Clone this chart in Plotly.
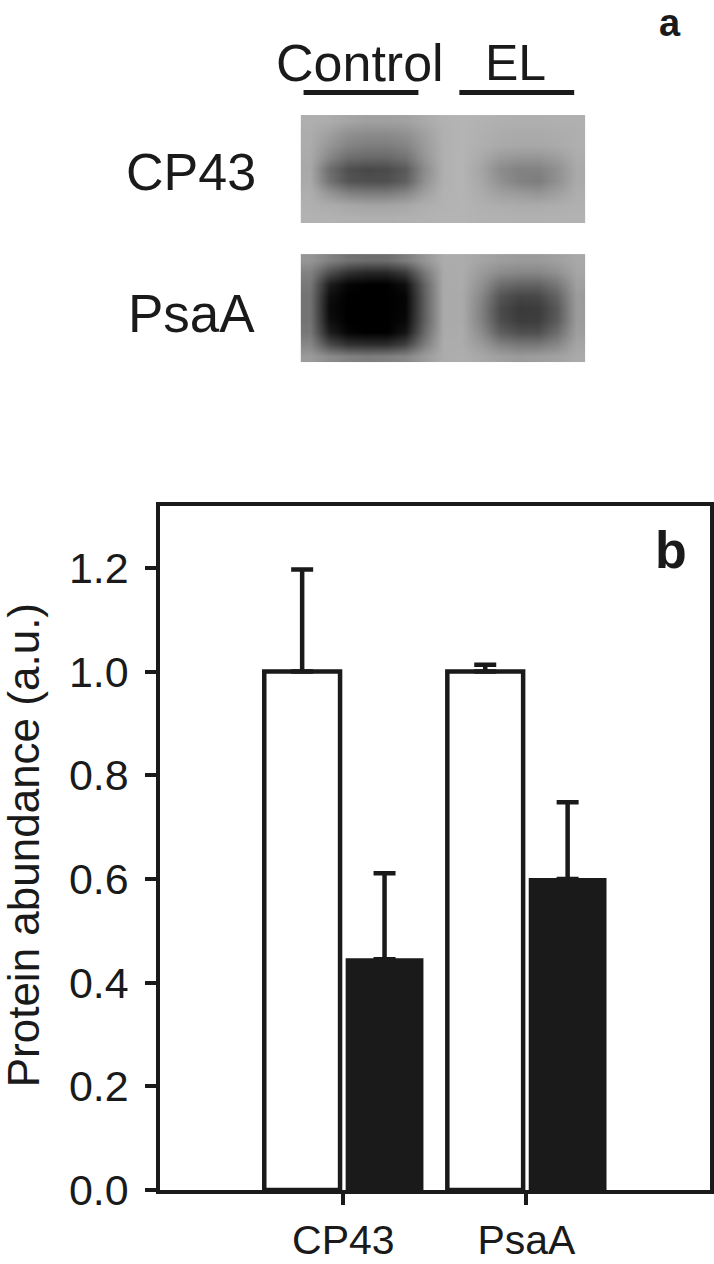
import plotly.graph_objects as go

W, H = 714, 1288
Y_SCALE = 1.0194
INK = "#1a1a1a"

categories = ["CP43", "PsaA"]
control_values = [1.0, 1.0]
control_errors = [0.197, 0.013]
el_values = [0.445, 0.60]
el_errors = [0.166, 0.148]
y_ticks = [0.0, 0.2, 0.4, 0.6, 0.8, 1.0, 1.2]
y_tick_labels = ["0.0", "0.2", "0.4", "0.6", "0.8", "1.0", "1.2"]

blot_cp43 = [
    [175, 172, 165, 160, 160, 162, 170, 178, 180, 178, 176, 175, 175, 176, 176],
    [172, 160, 145, 140, 140, 145, 160, 176, 180, 176, 172, 170, 170, 172, 175],
    [172, 150, 132, 125, 125, 132, 155, 176, 180, 175, 170, 168, 168, 170, 175],
    [170, 135, 110, 105, 105, 115, 150, 176, 180, 170, 155, 150, 150, 158, 172],
    [168, 110, 80, 72, 75, 90, 140, 176, 180, 165, 140, 130, 130, 145, 170],
    [170, 115, 85, 80, 80, 95, 145, 176, 180, 168, 145, 130, 125, 145, 170],
    [174, 150, 130, 125, 125, 135, 160, 178, 180, 172, 160, 155, 150, 160, 174],
    [176, 172, 168, 165, 165, 168, 175, 178, 180, 176, 174, 172, 172, 174, 176],
    [178, 178, 177, 176, 176, 177, 178, 180, 180, 178, 178, 177, 177, 178, 178],
]
blot_psaa = [
    [150, 130, 115, 110, 110, 125, 150, 172, 172, 165, 158, 155, 155, 160, 168],
    [130, 80, 50, 40, 40, 60, 120, 170, 172, 155, 140, 135, 135, 145, 165],
    [120, 30, 5, 0, 0, 15, 100, 170, 172, 145, 110, 100, 100, 120, 160],
    [115, 15, 0, 0, 0, 5, 95, 170, 170, 135, 85, 70, 72, 100, 155],
    [115, 10, 0, 0, 0, 5, 95, 170, 170, 130, 75, 58, 60, 90, 155],
    [115, 15, 0, 0, 0, 8, 95, 170, 170, 130, 78, 60, 62, 92, 155],
    [120, 30, 5, 0, 0, 20, 105, 170, 172, 140, 95, 80, 80, 110, 158],
    [135, 75, 50, 45, 45, 65, 125, 172, 172, 155, 130, 120, 120, 135, 165],
    [155, 140, 130, 125, 128, 135, 155, 172, 174, 168, 160, 155, 158, 162, 170],
]


def px(x):
    return x / W


def py(y):
    return 1 - y * Y_SCALE / H


fig = go.Figure()

err_style = dict(type="data", symmetric=False, color=INK, thickness=4.5, width=11)
fig.add_bar(
    x=categories, y=control_values, name="Control",
    marker=dict(color="white", line=dict(color=INK, width=4.5)),
    error_y=dict(array=control_errors, arrayminus=[0, 0], **err_style),
)
fig.add_bar(
    x=categories, y=el_values, name="EL",
    marker=dict(color=INK, line=dict(color=INK, width=2)),
    error_y=dict(array=el_errors, arrayminus=[0, 0], **err_style),
)

gray = [[0, "#000000"], [1, "#ffffff"]]
for z, xa, ya in [(blot_cp43, "x2", "y2"), (blot_psaa, "x3", "y3")]:
    fig.add_heatmap(z=z, xaxis=xa, yaxis=ya, colorscale=gray, zmin=0, zmax=255,
                    zsmooth="best", showscale=False, hoverinfo="skip")

hidden = dict(visible=False, fixedrange=True)
axis_line = dict(showline=True, linecolor=INK, linewidth=4, mirror=True,
                 ticks="outside", tickcolor=INK, tickwidth=4, showgrid=False,
                 zeroline=False)

fig.update_layout(
    width=W, height=H, margin=dict(l=0, r=0, t=0, b=0),
    autosize=False,
    paper_bgcolor="white", plot_bgcolor="white",
    showlegend=False, barmode="group", bargap=0.10, bargroupgap=0.08,
    font=dict(family="Liberation Sans", color=INK),
    xaxis=dict(domain=[px(160.5), px(710.5)], range=[-1, 2], type="category",
               categoryorder="array", categoryarray=categories, ticklen=11,
               ticklabelstandoff=0, tickfont=dict(size=41), **axis_line),
    yaxis=dict(domain=[py(1189.5), py(505.5)], range=[0, 1.32], tickvals=y_ticks,
               ticktext=y_tick_labels, ticklen=11, ticklabelstandoff=8,
               tickfont=dict(size=43), **axis_line),
    xaxis2=dict(domain=[px(301), px(586)], anchor="y2", **hidden),
    yaxis2=dict(domain=[py(223), py(115)], anchor="x2", autorange="reversed", **hidden),
    xaxis3=dict(domain=[px(301), px(586)], anchor="y3", **hidden),
    yaxis3=dict(domain=[py(362), py(254)], anchor="x3", autorange="reversed", **hidden),
    shapes=[
        dict(type="line", xref="paper", yref="paper", x0=px(304), x1=px(419),
             y0=py(92.5), y1=py(92.5), line=dict(color=INK, width=5)),
        dict(type="line", xref="paper", yref="paper", x0=px(460), x1=px(575),
             y0=py(92.5), y1=py(92.5), line=dict(color=INK, width=5)),
    ],
)


def label(text, x, y, size, bold=False, angle=0):
    fig.add_annotation(
        text=f"<b>{text}</b>" if bold else text,
        xref="paper", yref="paper", x=px(x), y=py(y), showarrow=False,
        xanchor="center", yanchor="middle", textangle=angle,
        font=dict(size=size, family="Liberation Sans", color=INK),
    )


label("Control", 361, 63, 52)
label("EL", 516, 63, 50)
label("CP43", 191, 172, 52)
label("PsaA", 192, 313, 53)
label("a", 671, 23, 38, bold=True)
label("b", 672, 550, 52, bold=True)
label("Protein abundance (a.u.)", 23, 845, 44, angle=-90)

fig.write_html("out.html", config={"displayModeBar": False, "responsive": False},
               post_script="document.body.style.margin='0';")
